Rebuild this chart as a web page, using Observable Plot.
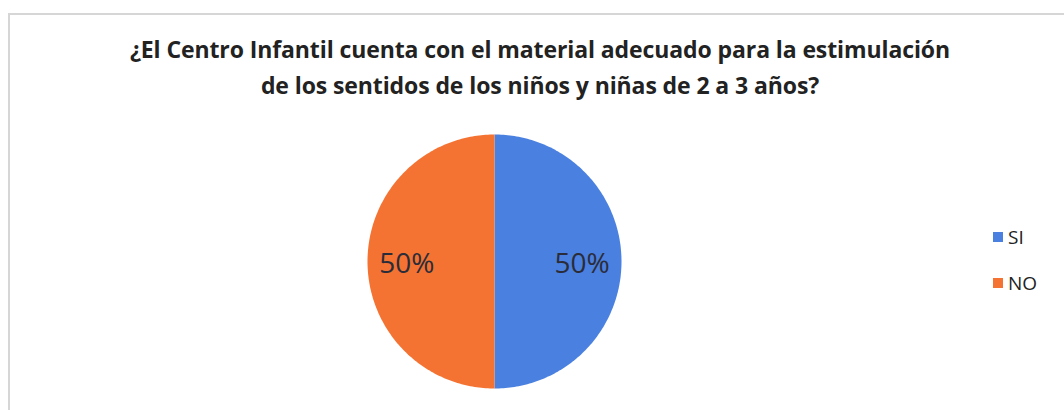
<!DOCTYPE html>
<html>
<head>
<meta charset="utf-8">
<script src="https://cdn.jsdelivr.net/npm/d3@7"></script>
<script src="https://cdn.jsdelivr.net/npm/@observablehq/plot@0.6"></script>
<style>
  html, body { margin: 0; padding: 0; background: #fff; overflow: hidden; }
  #wrap { position: relative; width: 1064px; height: 410px; overflow: hidden; font-family: "Open Sans", sans-serif; }
  #frame { position: absolute; left: 8px; top: 13px; width: 1300px; height: 600px; border-left: 2px solid #d6d6d6; border-top: 2px solid #d6d6d6; box-sizing: border-box; }
  #title { position: absolute; left: 0; width: 1080px; top: 31px; text-align: center; font-weight: 700; font-size: 23px; line-height: 36px; color: #222; letter-spacing: -0.1px; }
  #legend { position: absolute; left: 993px; top: 226px; font-size: 19px; color: #222; }
  #legend .item { display: flex; align-items: center; height: 22px; margin-bottom: 24px; }
  #legend .sw { width: 10px; height: 10px; margin-right: 5px; }
  #chart { position: absolute; left: 0; top: 0; }
</style>
</head>
<body>
<div id="wrap">
  <div id="frame"></div>
  <div id="chart"></div>
  <div id="title"></div>
  <div id="legend"></div>
</div>
<script>
const titleLines = ["¿El Centro Infantil cuenta con el material adecuado para la estimulación",
                    "de los sentidos de los niños y niñas de 2 a 3 años?"];
const categories = ["SI", "NO"];
const values = [50, 50];
const labels = ["50%", "50%"];
const colors = ["#4a80df", "#f47332"];

// pie geometry from data
const pie = d3.pie().sort(null).value(d => d.value);
const arcs = pie(categories.map((c, i) => ({key: c, value: values[i], label: labels[i]})));
const polyPoints = [];
for (const a of arcs) {
  const n = 180;
  polyPoints.push({key: a.data.key, x: 0, y: 0});
  for (let k = 0; k <= n; k++) {
    const t = a.startAngle + (a.endAngle - a.startAngle) * k / n;
    polyPoints.push({key: a.data.key, x: Math.sin(t), y: Math.cos(t)});
  }
}
const labelR = 0.69;
const labelPts = arcs.map(a => {
  const m = (a.startAngle + a.endAngle) / 2;
  return {x: Math.sin(m) * labelR, y: Math.cos(m) * labelR - 0.02, label: a.data.label};
});

const plot = Plot.plot({
  width: 1064,
  height: 410,
  marginLeft: 367,
  marginRight: 443,
  marginTop: 134,
  marginBottom: 22,
  x: {domain: [-1, 1], axis: null},
  y: {domain: [-1, 1], axis: null},
  color: {domain: categories, range: colors},
  style: {background: "transparent", fontFamily: "Open Sans, sans-serif"},
  marks: [
    Plot.line(polyPoints, {x: "x", y: "y", z: "key", fill: "key", stroke: null, curve: "linear-closed"}),
    Plot.text(labelPts, {x: "x", y: "y", text: "label", fontSize: 28, fill: "#2a2c3a", fontWeight: 500})
  ]
});
document.getElementById("chart").appendChild(plot);

document.getElementById("title").innerHTML = titleLines.map(t => `<div>${t}</div>`).join("");
document.getElementById("legend").innerHTML = categories.map((c, i) =>
  `<div class="item"><div class="sw" style="background:${colors[i]}"></div><span>${c}</span></div>`).join("");
</script>
</body>
</html>
